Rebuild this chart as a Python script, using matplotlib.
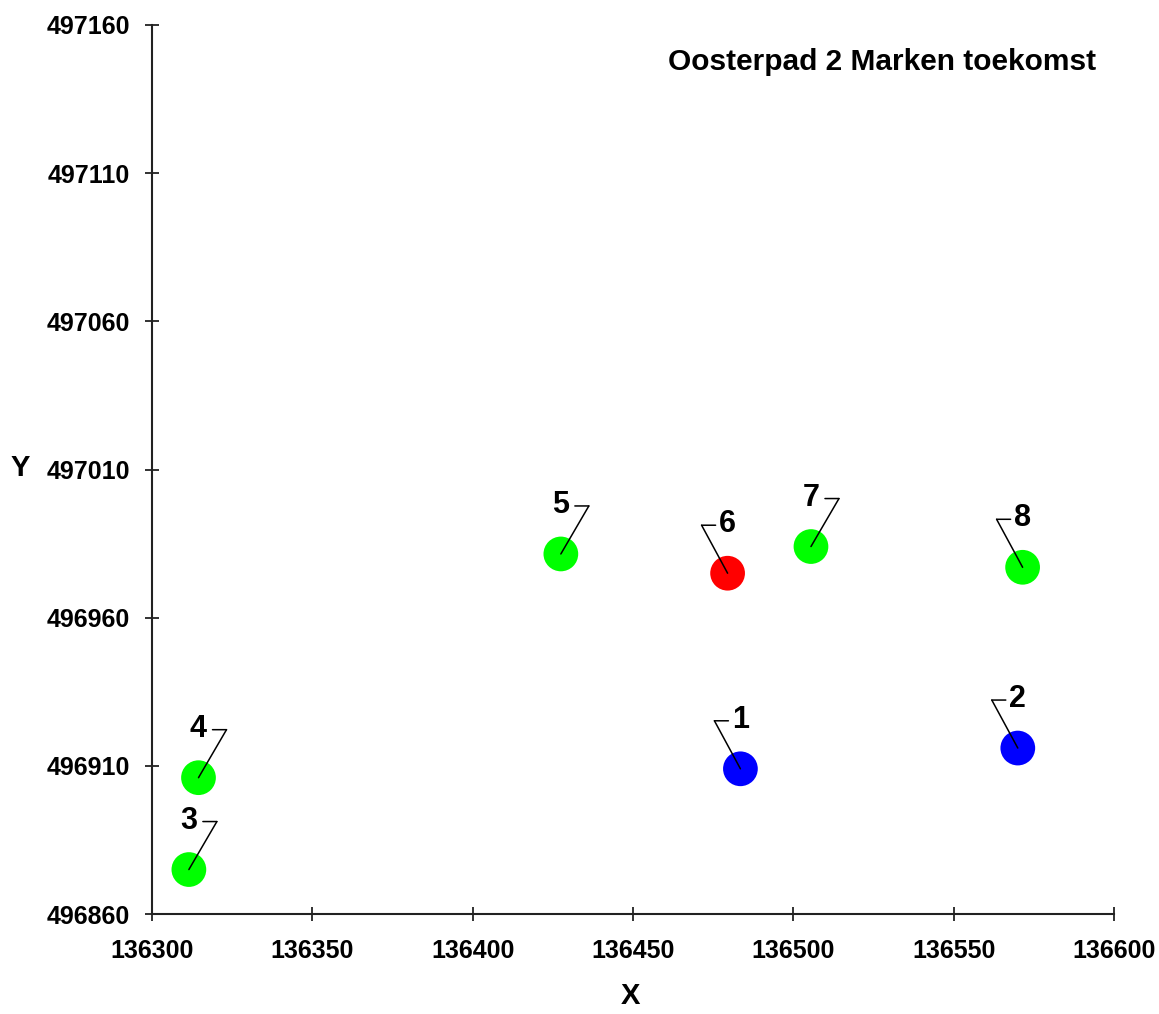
import matplotlib
matplotlib.use("Agg")
import matplotlib.pyplot as plt
from matplotlib.transforms import offset_copy

# --- data ---
labels = ["1", "2", "3", "4", "5", "6", "7", "8"]
xs = [136483.5, 136570.0, 136311.5, 136314.5, 136427.5, 136479.5, 136505.5, 136571.5]
ys = [496909.0, 496916.0, 496875.0, 496906.0, 496981.5, 496975.0, 496984.0, 496977.0]
colors = ["#0000FF", "#0000FF", "#00FF00", "#00FF00",
          "#00FF00", "#FF0000", "#00FF00", "#00FF00"]
sides = ["l", "l", "r", "r", "r", "l", "r", "l"]   # which way the leader leans
title = "Oosterpad 2 Marken toekomst"
x_ticks = [136300, 136350, 136400, 136450, 136500, 136550, 136600]
y_ticks = [496860, 496910, 496960, 497010, 497060, 497110, 497160]

plt.rcParams["font.family"] = ["Liberation Sans", "DejaVu Sans"]
plt.rcParams["font.weight"] = "bold"

W, H, DPI = 1159, 1014, 100
fig = plt.figure(figsize=(W / DPI, H / DPI), dpi=DPI)
ax = fig.add_axes([152 / W, 1 - 914 / H, (1114 - 152) / W, (914 - 25) / H])

ax.set_xlim(x_ticks[0], x_ticks[-1])
ax.set_ylim(y_ticks[0], y_ticks[-1])
ax.set_xticks(x_ticks)
ax.set_yticks(y_ticks)
ax.set_xticklabels([str(v) for v in x_ticks])
ax.set_yticklabels([str(v) for v in y_ticks])
for s in ("top", "right"):
    ax.spines[s].set_visible(False)
for s in ("left", "bottom"):
    ax.spines[s].set_color("#222222")
    ax.spines[s].set_linewidth(1.5)
ax.tick_params(direction="inout", length=10, width=1.3, color="#222222",
               labelsize=18)
ax.tick_params(axis="x", pad=13)
ax.tick_params(axis="y", pad=11)
for t in ax.get_xticklabels() + ax.get_yticklabels():
    t.set_fontweight("bold")

ax.scatter(xs, ys, s=25 ** 2, c=colors, linewidths=0, zorder=3, clip_on=False)

# leader lines and labels (offsets in pixels)
for x, y, lab, side in zip(xs, ys, labels, sides):
    cdx = 28 if side == "r" else -26
    hdx = 14 if side == "r" else -12
    corner = offset_copy(ax.transData, fig=fig, x=cdx, y=48, units="dots")
    hend = offset_copy(ax.transData, fig=fig, x=hdx, y=48, units="dots")
    tpos = offset_copy(ax.transData, fig=fig, x=0, y=49, units="dots")
    line_kw = dict(arrowstyle="-", color="black", lw=1.1, shrinkA=0, shrinkB=0)
    ax.annotate("", xy=(x, y), xycoords="data", xytext=(x, y), textcoords=corner,
                arrowprops=line_kw, zorder=4)
    ax.annotate("", xy=(x, y), xycoords=corner, xytext=(x, y), textcoords=hend,
                arrowprops=line_kw, zorder=4)
    ax.text(x, y, lab, transform=tpos, ha="center", va="center",
            fontsize=22, fontweight="bold", zorder=5)

fig.text(882 / W, 1 - 62 / H, title, ha="center", va="center",
         fontsize=21.5, fontweight="bold")
fig.text(630 / W, 1 - 996 / H, "X", ha="center", va="center",
         fontsize=21, fontweight="bold")
fig.text(20 / W, 1 - 468 / H, "Y", ha="center", va="center",
         fontsize=21, fontweight="bold")

fig.savefig("out.png", dpi=DPI)
